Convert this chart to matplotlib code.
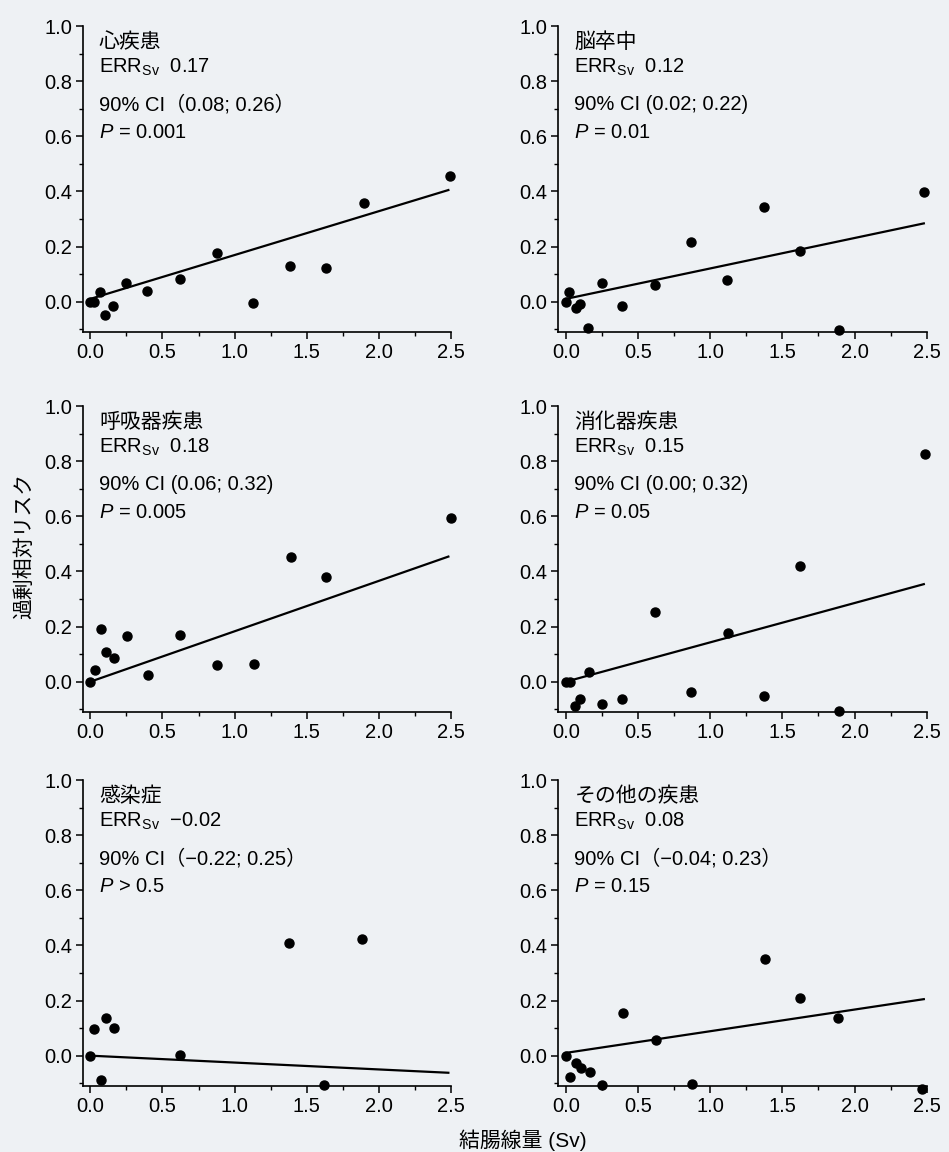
import numpy as np
import matplotlib
matplotlib.use('Agg')
import matplotlib.pyplot as plt
from matplotlib.ticker import MultipleLocator, FormatStrFormatter

# 日本語フォント（フォールバック付き）
plt.rcParams['font.family'] = ['Liberation Sans', 'Noto Sans CJK JP', 'DejaVu Sans']
plt.rcParams['mathtext.fontset'] = 'custom'
plt.rcParams['mathtext.rm'] = 'Liberation Sans'
plt.rcParams['mathtext.it'] = 'Liberation Sans:italic'

# 各疾患の線量(Sv)と過剰相対リスク
heart_x = [0.0, 0.025, 0.07, 0.10, 0.16, 0.25, 0.39, 0.62, 0.875, 1.13, 1.38, 1.63, 1.895, 2.49]
heart_y = [0.0, 0.0, 0.036, -0.048, -0.015, 0.068, 0.037, 0.082, 0.176, -0.006, 0.13, 0.123, 0.357, 0.457]

stroke_x = [0.0, 0.023, 0.07, 0.10, 0.157, 0.25, 0.39, 0.62, 0.87, 1.12, 1.376, 1.62, 1.89, 2.48]
stroke_y = [0.0, 0.034, -0.024, -0.008, -0.095, 0.068, -0.017, 0.062, 0.215, 0.079, 0.344, 0.185, -0.104, 0.399]

resp_x = [0.0, 0.03, 0.074, 0.106, 0.166, 0.254, 0.397, 0.624, 0.878, 1.134, 1.39, 1.636, 2.495]
resp_y = [0.0, 0.043, 0.19, 0.108, 0.086, 0.166, 0.025, 0.169, 0.059, 0.064, 0.454, 0.38, 0.595]

digest_x = [0.0, 0.028, 0.065, 0.10, 0.16, 0.25, 0.39, 0.62, 0.87, 1.127, 1.376, 1.62, 1.89, 2.49]
digest_y = [0.0, 0.0, -0.089, -0.064, 0.034, -0.08, -0.062, 0.252, -0.039, 0.176, -0.052, 0.419, -0.107, 0.825]

infect_x = [0.0, 0.028, 0.074, 0.108, 0.166, 0.62, 1.378, 1.617, 1.88]
infect_y = [0.0, 0.095, -0.087, 0.136, 0.10, 0.002, 0.408, -0.105, 0.424]

other_x = [0.0, 0.028, 0.074, 0.104, 0.166, 0.254, 0.397, 0.623, 0.873, 1.378, 1.623, 1.888, 2.47]
other_y = [0.0, -0.077, -0.027, -0.046, -0.061, -0.108, 0.155, 0.056, -0.104, 0.35, 0.208, 0.136, -0.12]

# 回帰直線の端点 (x=0, x=2.48)
fit_x = [0.0, 2.48]
heart_fit = [0.01, 0.405]
stroke_fit = [0.01, 0.284]
resp_fit = [0.0, 0.454]
digest_fit = [0.0, 0.354]
infect_fit = [0.0, -0.062]
other_fit = [0.01, 0.205]

titles = ['心疾患', '脳卒中', '呼吸器疾患', '消化器疾患', '感染症', 'その他の疾患']
err_vals = ['0.17', '0.12', '0.18', '0.15', '\u22120.02', '0.08']
ci_labels = ['90% CI\uff080.08; 0.26\uff09', '90% CI (0.02; 0.22)', '90% CI (0.06; 0.32)',
             '90% CI (0.00; 0.32)', '90% CI\uff08\u22120.22; 0.25\uff09', '90% CI\uff08\u22120.04; 0.23\uff09']
p_labels = ['= 0.001', '= 0.01', '= 0.005', '= 0.05', '> 0.5', '= 0.15']

xs = [heart_x, stroke_x, resp_x, digest_x, infect_x, other_x]
ys = [heart_y, stroke_y, resp_y, digest_y, infect_y, other_y]
fits = [heart_fit, stroke_fit, resp_fit, digest_fit, infect_fit, other_fit]

bg = '#eef1f4'
fig = plt.figure(figsize=(9.49, 11.52), dpi=100, facecolor=bg)

lefts = [0.0875, 0.5885]
bottoms = [0.7118, 0.3819, 0.0573]
w, h = 0.388, 0.2656

for i in range(6):
    ax = fig.add_axes([lefts[i % 2], bottoms[i // 2], w, h])
    ax.set_facecolor(bg)
    ax.plot(fit_x, fits[i], color='black', lw=1.6, zorder=2)
    ax.plot(xs[i], ys[i], 'o', color='black', markersize=6.5, zorder=3, clip_on=False)
    ax.set_xlim(-0.05, 2.5)
    ax.set_ylim(-0.11, 1.0)
    ax.spines['top'].set_visible(False)
    ax.spines['right'].set_visible(False)
    ax.spines['left'].set_linewidth(1.2)
    ax.spines['bottom'].set_linewidth(1.2)
    ax.xaxis.set_major_locator(MultipleLocator(0.5))
    ax.xaxis.set_minor_locator(MultipleLocator(0.25))
    ax.set_yticks([0.0, 0.2, 0.4, 0.6, 0.8, 1.0])
    ax.yaxis.set_minor_locator(MultipleLocator(0.1))
    ax.yaxis.set_major_formatter(FormatStrFormatter('%.1f'))
    ax.xaxis.set_major_formatter(FormatStrFormatter('%.1f'))
    ax.tick_params(which='major', direction='out', length=5, width=1.1, labelsize=14.5, pad=3)
    ax.tick_params(which='minor', direction='out', length=3, width=1.0)

    tx = 0.06
    ax.text(tx, 0.94, titles[i], fontsize=15, va='center', ha='left')
    ax.text(tx, 0.85, 'ERR$_{\\mathrm{Sv}}$  ' + err_vals[i], fontsize=14.5, va='center', ha='left')
    ax.text(tx, 0.715, ci_labels[i], fontsize=14.5, va='center', ha='left')
    ax.text(tx, 0.615, '$P$ ' + p_labels[i], fontsize=14.5, va='center', ha='left')

fig.text(0.026, 1 - 546 / 1152, '過剰相対リスク', rotation=90, fontsize=15, ha='center', va='center')
fig.text(523 / 949, 1 - 1140 / 1152, '結腸線量 (Sv)', fontsize=15, ha='center', va='center')

fig.savefig('out.png', dpi=100, facecolor=bg)
